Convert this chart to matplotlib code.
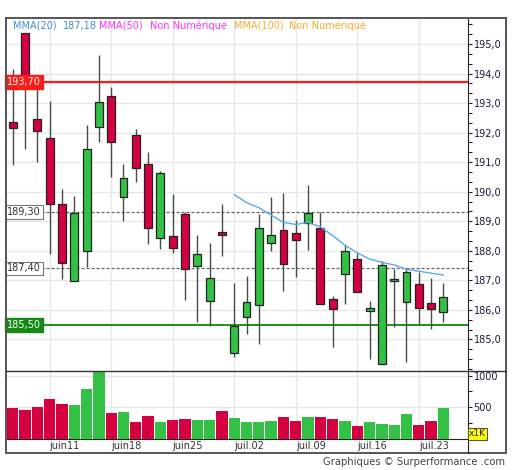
import numpy as np
import pandas as pd
import matplotlib
matplotlib.use("Agg")
import matplotlib.pyplot as plt
from matplotlib.ticker import AutoMinorLocator, FixedLocator, FuncFormatter
from matplotlib.patches import Rectangle
import matplotlib.transforms as mtransforms

# daily OHLC, 6 june -> 25 july
dates = pd.bdate_range("2018-06-06", "2018-07-25")
opens  = [192.36, 195.37, 192.45, 191.81, 189.58, 186.96, 187.99, 192.20, 193.23, 189.83,
          191.91, 190.93, 188.42, 188.49, 189.23, 187.47, 186.30, 188.63, 184.53, 185.76,
          186.16, 188.27, 188.71, 188.59, 188.95, 188.78, 186.36, 187.21, 187.73, 185.95,
          184.16, 186.96, 186.25, 186.86, 186.22, 185.94]
highs  = [194.14, 195.37, 193.53, 193.07, 190.09, 189.85, 192.26, 194.63, 193.53, 190.93,
          192.13, 191.33, 190.70, 189.91, 189.30, 188.53, 188.25, 189.58, 186.92, 187.14,
          189.23, 189.83, 189.94, 189.05, 190.22, 189.30, 186.47, 188.19, 187.91, 186.30,
          187.66, 187.39, 187.40, 187.29, 187.07, 186.90]
lows   = [190.90, 191.44, 190.99, 187.88, 187.03, 186.96, 187.46, 191.69, 190.51, 189.02,
          190.32, 188.23, 188.06, 187.91, 186.35, 185.59, 185.46, 187.82, 184.41, 185.18,
          184.84, 188.00, 186.64, 187.11, 188.01, 186.20, 184.75, 186.19, 186.61, 184.32,
          184.16, 185.41, 184.24, 185.52, 185.34, 185.58]
closes = [192.16, 193.85, 192.05, 189.58, 187.57, 189.29, 191.44, 193.05, 191.67, 190.46,
          190.81, 188.78, 190.62, 188.08, 187.38, 187.89, 187.07, 188.52, 185.45, 186.26,
          188.78, 188.52, 187.56, 188.36, 189.28, 186.20, 186.02, 187.99, 186.61, 186.06,
          187.53, 187.03, 187.29, 186.05, 186.02, 186.43]
volumes = [494, 452, 510, 632, 558, 542, 790, 1075, 411, 426, 262, 363, 273, 305, 321, 305,
           305, 436, 332, 273, 262, 289, 347, 289, 347, 347, 316, 289, 199, 273, 242, 226,
           395, 215, 289, 494]

# MMA(20), available from the 19th session
mma20_start = 18
mma20 = [189.90, 189.63, 189.46, 189.21, 188.96, 188.89, 188.96, 188.81, 188.51, 188.19,
         187.93, 187.72, 187.61, 187.52, 187.37, 187.31, 187.24, 187.18]

tick_labels = ["juin11", "juin18", "juin25", "juil.02", "juil.09", "juil.16", "juil.23"]
price_ticks = [185, 186, 187, 188, 189, 190, 191, 192, 193, 194, 195]
vol_ticks = [500, 1000]

resistance = 193.70
support = 185.50
levels = [189.30, 187.40]

RED = "#d5003f"
GREEN = "#33c145"
GRID = "#e8e8e8"

W, H = 512, 470
fig = plt.figure(figsize=(W / 100, H / 100), dpi=100)
plt.rcParams["font.family"] = ["DejaVu Sans"]


def fx(px):
    return px / W


def fy(py):
    return 1 - py / H


ax = fig.add_axes([fx(6), fy(371), fx(468 - 6), (371 - 18) / H])
axv = fig.add_axes([fx(6), fy(439), fx(468 - 6), (439 - 371) / H], sharex=ax)

x = np.arange(len(dates))
mondays = [i for i, d in enumerate(dates) if d.dayofweek == 0]
up = np.array(closes) >= np.array(opens)

# candles
for i in x:
    c = GREEN if up[i] else RED
    ax.vlines(i, lows[i], highs[i], color="#4a4a4a", lw=1, zorder=3)
    lo, hi = min(opens[i], closes[i]), max(opens[i], closes[i])
    ax.add_patch(Rectangle((i - 0.32, lo), 0.64, max(hi - lo, 0.06), facecolor=c,
                           edgecolor="#222222", lw=0.9, zorder=4))

ax.plot(x[mma20_start:], mma20, color="#5aaae8", lw=1, zorder=5)

ax.axhline(resistance, color="#ff1a1a", lw=1.6, zorder=2)
ax.axhline(support, color="#1a931a", lw=1.4, zorder=2)
for lv in levels:
    ax.axhline(lv, color="#666666", lw=0.9, ls=(0, (2.5, 1.5)), zorder=2)

ax.set_xlim(-0.55, 37.0)
ax.set_ylim(183.93, 195.88)
ax.yaxis.tick_right()
ax.yaxis.set_major_locator(FixedLocator(price_ticks))
ax.yaxis.set_minor_locator(FixedLocator(np.arange(184, 196, 1 / 3)))
ax.yaxis.set_major_formatter(FuncFormatter(lambda v, p: f"{v:.1f}".replace(".", ",")))
ax.tick_params(axis="y", which="both", direction="out", length=3, width=0.8,
               labelsize=7, pad=1, colors="#222222", labelcolor="#1a1a3a")
ax.tick_params(axis="x", which="both", length=0, labelbottom=False)
ax.set_xticks(mondays)
ax.grid(True, color=GRID, lw=1)
ax.set_axisbelow(True)
for s in ["top", "left", "bottom"]:
    ax.spines[s].set_visible(False)
ax.spines["right"].set_color("#222222")

# level labels
trans = mtransforms.blended_transform_factory(ax.transAxes, ax.transData)
ax.text(0.003, resistance, f"{resistance:.2f}".replace(".", ","), transform=trans,
        fontsize=7, color="white", va="center", ha="left", zorder=6,
        bbox=dict(boxstyle="square,pad=0.2", fc="#ff1a1a", ec="#ff1a1a"))
ax.text(0.003, support, f"{support:.2f}".replace(".", ","), transform=trans,
        fontsize=7, color="white", va="center", ha="left", zorder=6,
        bbox=dict(boxstyle="square,pad=0.2", fc="#138a13", ec="#138a13"))
for lv in levels:
    ax.text(0.003, lv, f"{lv:.2f}".replace(".", ","), transform=trans,
            fontsize=7, color="#333333", va="center", ha="left", zorder=6,
            bbox=dict(boxstyle="square,pad=0.2", fc="white", ec="#777777", lw=0.8))

# legend line
legend = [("MMA(20)", "#3d8fd8", 12.7), (f"{mma20[-1]:.2f}".replace(".", ","), "#3d8fd8", 62.7),
          ("MMA(50)", "#ff33ff", 99.3), ("Non Numérique", "#ff33ff", 150),
          ("MMA(100)", "#ffaa2a", 234.3), ("Non Numérique", "#ffaa2a", 289.3)]
for txt, col, px in legend:
    fig.text(fx(px), fy(26), txt, color=col, fontsize=7, va="center", ha="left")

# volume panel
axv.bar(x, volumes, width=0.92, color=[GREEN if u else RED for u in up], zorder=3)
axv.set_ylim(0, 1072)
axv.yaxis.tick_right()
axv.set_yticks(vol_ticks)
axv.yaxis.set_minor_locator(AutoMinorLocator(2))
axv.tick_params(axis="y", which="both", direction="out", length=3, width=0.8,
                labelsize=7, pad=1, colors="#222222", labelcolor="#1a1a3a")
axv.set_xticks(mondays)
axv.set_xticklabels(tick_labels, ha="left", fontsize=7, color="#333333")
axv.tick_params(axis="x", length=0, pad=1.5)
axv.grid(True, color=GRID, lw=1)
axv.set_axisbelow(True)
axv.spines["left"].set_visible(False)
axv.spines["top"].set_visible(False)
axv.spines["right"].set_color("#222222")
axv.spines["bottom"].set_color("#222222")
fig.text(fx(469), fy(434), "x1K", fontsize=6.5, color="#222222", va="center", ha="left",
         bbox=dict(boxstyle="square,pad=0.12", fc="#ffff00", ec="#555555", lw=0.8))

# outer frame and separators
fig.add_artist(Rectangle((fx(6), fy(453)), fx(500), (453 - 18) / H, transform=fig.transFigure,
                         fill=False, ec="#555555", lw=1.4))
fig.add_artist(plt.Line2D([fx(6), fx(506)], [fy(371), fy(371)], transform=fig.transFigure,
                          color="#333333", lw=1))
fig.add_artist(plt.Line2D([fx(468), fx(468)], [fy(439), fy(453)], transform=fig.transFigure,
                          color="#222222", lw=0.8))

fig.text(fx(505), fy(462), "Graphiques © Surperformance .com", fontsize=7.2, color="#444444",
         ha="right", va="center")

fig.savefig("out.png", dpi=100)
